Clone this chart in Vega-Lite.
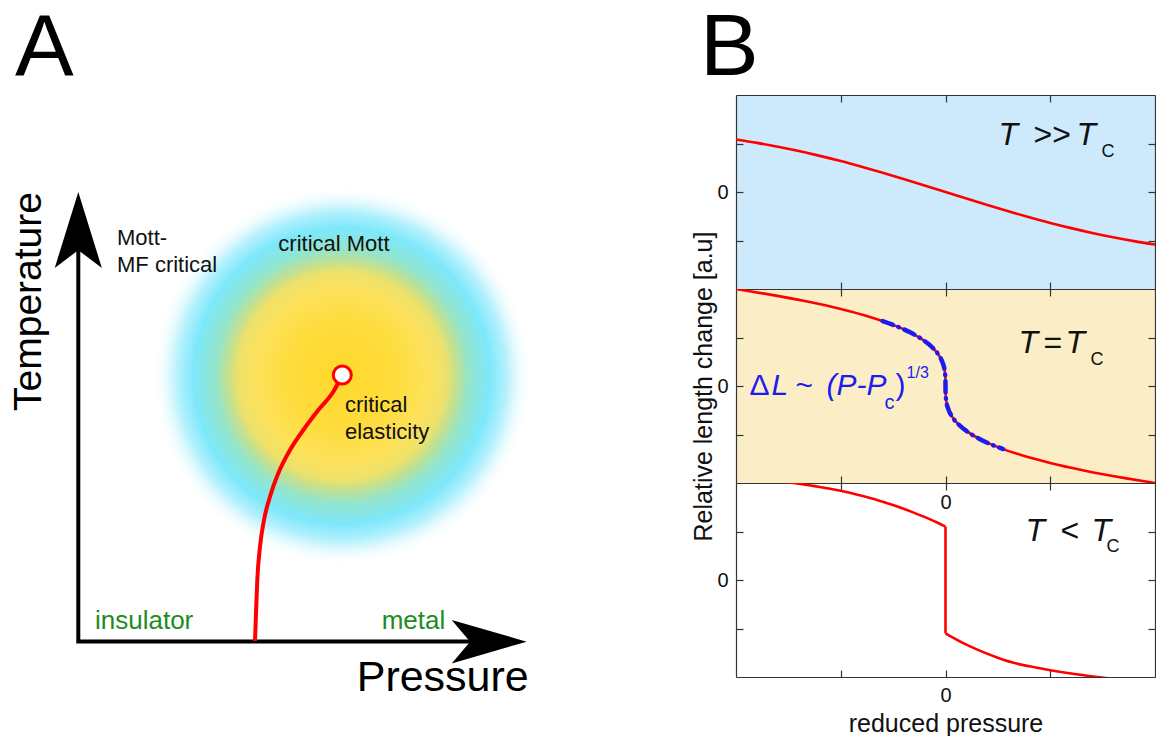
{
  "$schema": "https://vega.github.io/schema/vega-lite/v6.json",
  "padding": {"top": 5, "left": 0, "right": 0, "bottom": 0},
  "background": "white",
  "spacing": 1,
  "config": {
    "view": {"stroke": null},
    "font": "Liberation Sans",
    "title": {"fontSize": 88, "fontWeight": "normal", "anchor": "start", "font": "Liberation Sans", "color": "#000000", "offset": 1},
    "axis": {"grid": false, "domainColor": "#333333", "domainWidth": 1.2, "tickColor": "#333333", "tickWidth": 1.2, "tickSize": -7, "labelFont": "Liberation Sans", "labelFontSize": 20, "labelColor": "#111111", "titleFont": "Liberation Sans", "titleFontSize": 25, "titleFontWeight": "normal", "titleColor": "#111111", "labelPadding": 15}
  },
  "hconcat": [
    {
      "title": {"text": "A", "dx": 15},
      "width": 690,
      "height": 620,
      "layer": [
        {
          "data": {"values": [{"a": 34.2, "b": 33.9}]},
          "mark": {"type": "point", "shape": "circle", "filled": true, "size": 144400, "opacity": 1, "strokeWidth": 0,
            "fill": {"gradient": "radial", "x1": 0.5, "y1": 0.5, "r1": 0, "x2": 0.5, "y2": 0.5, "r2": 0.5,
              "stops": [
                {"offset": 0, "color": "#ffd82a"},
                {"offset": 0.28, "color": "#fedc3c"},
                {"offset": 0.46, "color": "#fde25c"},
                {"offset": 0.55, "color": "#ece16c"},
                {"offset": 0.6, "color": "#c3e08f"},
                {"offset": 0.67, "color": "#93e5cc"},
                {"offset": 0.78, "color": "#7de8fb"},
                {"offset": 0.87, "color": "#b8f1fd"},
                {"offset": 1, "color": "rgba(255,255,255,0)"}
              ]}},
          "encoding": {
            "x": {"field": "a", "type": "quantitative", "scale": {"domain": [0, 69], "nice": false, "zero": false}, "axis": null},
            "y": {"field": "b", "type": "quantitative", "scale": {"domain": [0, 62], "nice": false, "zero": false}, "axis": null}
          }
        },
        {
          "data": {"values": [{"a": 7.83, "b": 46.5, "k": 1}, {"a": 7.83, "b": 7.35, "k": 2}, {"a": 47.5, "b": 7.35, "k": 3}]},
          "mark": {"type": "line", "color": "#000000", "strokeWidth": 4, "strokeJoin": "miter"},
          "encoding": {
            "x": {"field": "a", "type": "quantitative", "scale": {"domain": [0, 69], "nice": false, "zero": false}, "axis": null},
            "y": {"field": "b", "type": "quantitative", "scale": {"domain": [0, 62], "nice": false, "zero": false}, "axis": null},
            "order": {"field": "k", "type": "quantitative"}
          }
        },
        {
          "data": {"values": [{"a": 7.83, "b": 48.5}]},
          "mark": {"type": "point", "shape": "M0,-1L0.62,1L0,0.53L-0.62,1Z", "filled": true, "size": 5776, "opacity": 1, "color": "#000000", "strokeWidth": 0},
          "encoding": {
            "x": {"field": "a", "type": "quantitative", "scale": {"domain": [0, 69], "nice": false, "zero": false}, "axis": null},
            "y": {"field": "b", "type": "quantitative", "scale": {"domain": [0, 62], "nice": false, "zero": false}, "axis": null}
          }
        },
        {
          "data": {"values": [{"a": 48.92, "b": 7.33}]},
          "mark": {"type": "point", "shape": "M1,0L-1,-0.58L-0.51,0L-1,0.58Z", "filled": true, "size": 5625, "opacity": 1, "color": "#000000", "strokeWidth": 0},
          "encoding": {
            "x": {"field": "a", "type": "quantitative", "scale": {"domain": [0, 69], "nice": false, "zero": false}, "axis": null},
            "y": {"field": "b", "type": "quantitative", "scale": {"domain": [0, 62], "nice": false, "zero": false}, "axis": null}
          }
        },
        {
          "data": {"values": [
            {"a": 25.5, "b": 7.4}, {"a": 25.6, "b": 10.17}, {"a": 25.73, "b": 13.5}, {"a": 26.0, "b": 16.83},
            {"a": 26.4, "b": 19.5}, {"a": 27.0, "b": 21.83}, {"a": 27.83, "b": 24.17}, {"a": 29.0, "b": 26.5},
            {"a": 30.33, "b": 28.5}, {"a": 31.83, "b": 30.5}, {"a": 33.33, "b": 32.33}, {"a": 34.23, "b": 34.0}
          ]},
          "mark": {"type": "line", "color": "#ff0000", "strokeWidth": 4, "interpolate": "monotone"},
          "encoding": {
            "x": {"field": "a", "type": "quantitative", "scale": {"domain": [0, 69], "nice": false, "zero": false}, "axis": null},
            "y": {"field": "b", "type": "quantitative", "scale": {"domain": [0, 62], "nice": false, "zero": false}, "axis": null}
          }
        },
        {
          "data": {"values": [{"a": 34.23, "b": 34.0}]},
          "mark": {"type": "point", "shape": "circle", "filled": false, "size": 324, "opacity": 1, "fill": "#ffffff", "stroke": "#ff0000", "strokeWidth": 3},
          "encoding": {
            "x": {"field": "a", "type": "quantitative", "scale": {"domain": [0, 69], "nice": false, "zero": false}, "axis": null},
            "y": {"field": "b", "type": "quantitative", "scale": {"domain": [0, 62], "nice": false, "zero": false}, "axis": null}
          }
        },
        {
          "data": {"values": [
            {"t": "Mott-", "a": 11.7, "b": 47.0}, {"t": "MF critical", "a": 11.7, "b": 44.33},
            {"t": "critical Mott", "a": 27.83, "b": 46.43}, {"t": "critical", "a": 34.5, "b": 30.27},
            {"t": "elasticity", "a": 34.5, "b": 27.57}
          ]},
          "mark": {"type": "text", "font": "Liberation Sans", "fontSize": 22, "align": "left", "baseline": "alphabetic", "color": "#111111"},
          "encoding": {
            "x": {"field": "a", "type": "quantitative", "scale": {"domain": [0, 69], "nice": false, "zero": false}, "axis": null},
            "y": {"field": "b", "type": "quantitative", "scale": {"domain": [0, 62], "nice": false, "zero": false}, "axis": null},
            "text": {"field": "t"}
          }
        },
        {
          "data": {"values": [{"t": "insulator", "a": 9.5, "b": 8.6}, {"t": "metal", "a": 38.17, "b": 8.6}]},
          "mark": {"type": "text", "font": "Liberation Sans", "fontSize": 26, "align": "left", "baseline": "alphabetic", "color": "#1e8c1e"},
          "encoding": {
            "x": {"field": "a", "type": "quantitative", "scale": {"domain": [0, 69], "nice": false, "zero": false}, "axis": null},
            "y": {"field": "b", "type": "quantitative", "scale": {"domain": [0, 62], "nice": false, "zero": false}, "axis": null},
            "text": {"field": "t"}
          }
        },
        {
          "data": {"values": [{"t": "Pressure", "a": 35.67, "b": 2.4}]},
          "mark": {"type": "text", "font": "Liberation Sans", "fontSize": 43, "align": "left", "baseline": "alphabetic", "color": "#000000"},
          "encoding": {
            "x": {"field": "a", "type": "quantitative", "scale": {"domain": [0, 69], "nice": false, "zero": false}, "axis": null},
            "y": {"field": "b", "type": "quantitative", "scale": {"domain": [0, 62], "nice": false, "zero": false}, "axis": null},
            "text": {"field": "t"}
          }
        },
        {
          "data": {"values": [{"t": "Temperature", "a": 4.1, "b": 41.35}]},
          "mark": {"type": "text", "font": "Liberation Sans", "fontSize": 39, "align": "center", "baseline": "alphabetic", "angle": 270, "color": "#000000"},
          "encoding": {
            "x": {"field": "a", "type": "quantitative", "scale": {"domain": [0, 69], "nice": false, "zero": false}, "axis": null},
            "y": {"field": "b", "type": "quantitative", "scale": {"domain": [0, 62], "nice": false, "zero": false}, "axis": null},
            "text": {"field": "t"}
          }
        }
      ]
    },
    {
      "title": {"text": "B", "dx": 8},
      "spacing": 0,
      "bounds": "flush",
      "vconcat": [
        {
          "width": 419,
          "height": 194,
          "view": {"fill": "#cdeafc", "stroke": null},
          "resolve": {"axis": {"x": "independent", "y": "independent"}},
          "layer": [
            {
              "data": {"values": [
                {"p": -2, "l": 1.084}, {"p": -1.8, "l": 1.013}, {"p": -1.6, "l": 0.933}, {"p": -1.4, "l": 0.844},
                {"p": -1.2, "l": 0.745}, {"p": -1.0, "l": 0.638}, {"p": -0.8, "l": 0.521}, {"p": -0.6, "l": 0.398},
                {"p": -0.4, "l": 0.269}, {"p": -0.2, "l": 0.136}, {"p": 0, "l": 0}, {"p": 0.2, "l": -0.136},
                {"p": 0.4, "l": -0.269}, {"p": 0.6, "l": -0.398}, {"p": 0.8, "l": -0.521}, {"p": 1.0, "l": -0.638},
                {"p": 1.2, "l": -0.745}, {"p": 1.4, "l": -0.844}, {"p": 1.6, "l": -0.933}, {"p": 1.8, "l": -1.013},
                {"p": 2.0, "l": -1.084}
              ]},
              "mark": {"type": "line", "color": "#ff0000", "strokeWidth": 2.6, "interpolate": "monotone", "clip": true},
              "encoding": {
                "x": {"field": "p", "type": "quantitative", "scale": {"domain": [-2, 2], "nice": false, "zero": false}, "axis": {"orient": "bottom", "values": [-1, 0, 1], "labels": false, "title": null}},
                "y": {"field": "l", "type": "quantitative", "scale": {"domain": [-2, 2], "nice": false, "zero": false}, "axis": {"orient": "left", "values": [-1, 0, 1], "labelExpr": "datum.value == 0 ? '0' : ''", "title": null}}
              }
            },
            {
              "data": {"values": [{"t": "T", "p": 0.506, "l": 0.963}, {"t": "T", "p": 1.251, "l": 0.963}]},
              "mark": {"type": "text", "font": "Liberation Sans", "fontStyle": "italic", "fontSize": 32, "align": "left", "baseline": "alphabetic", "color": "#111111"},
              "encoding": {
                "x": {"field": "p", "type": "quantitative", "scale": {"domain": [-2, 2], "nice": false, "zero": false}, "axis": {"orient": "top", "values": [-1, 0, 1], "labels": false, "title": null}},
                "y": {"field": "l", "type": "quantitative", "scale": {"domain": [-2, 2], "nice": false, "zero": false}, "axis": {"orient": "right", "values": [-1, 0, 1], "labels": false, "title": null}},
                "text": {"field": "t"}
              }
            },
            {
              "data": {"values": [{"t": ">>", "p": 0.84, "l": 0.963}]},
              "mark": {"type": "text", "font": "Liberation Sans", "fontSize": 32, "align": "left", "baseline": "alphabetic", "color": "#111111"},
              "encoding": {
                "x": {"field": "p", "type": "quantitative", "scale": {"domain": [-2, 2], "nice": false, "zero": false}, "axis": null},
                "y": {"field": "l", "type": "quantitative", "scale": {"domain": [-2, 2], "nice": false, "zero": false}, "axis": null},
                "text": {"field": "t"}
              }
            },
            {
              "data": {"values": [{"t": "C", "p": 1.49, "l": 0.715}]},
              "mark": {"type": "text", "font": "Liberation Sans", "fontSize": 18, "align": "left", "baseline": "alphabetic", "color": "#111111"},
              "encoding": {
                "x": {"field": "p", "type": "quantitative", "scale": {"domain": [-2, 2], "nice": false, "zero": false}, "axis": null},
                "y": {"field": "l", "type": "quantitative", "scale": {"domain": [-2, 2], "nice": false, "zero": false}, "axis": null},
                "text": {"field": "t"}
              }
            }
          ]
        },
        {
          "width": 419,
          "height": 194,
          "view": {"fill": "#fbeec6", "stroke": null},
          "resolve": {"axis": {"x": "independent", "y": "independent"}},
          "layer": [
            {
              "data": {"values": [
                {"p": -2, "l": 2.0}, {"p": -1.728, "l": 1.904}, {"p": -1.331, "l": 1.746}, {"p": -1.0, "l": 1.587},
                {"p": -0.729, "l": 1.428}, {"p": -0.512, "l": 1.27}, {"p": -0.343, "l": 1.111}, {"p": -0.216, "l": 0.952},
                {"p": -0.125, "l": 0.794}, {"p": -0.064, "l": 0.635}, {"p": -0.027, "l": 0.476}, {"p": -0.008, "l": 0.317},
                {"p": -0.001, "l": 0.159}, {"p": 0, "l": 0}, {"p": 0.001, "l": -0.159}, {"p": 0.008, "l": -0.317},
                {"p": 0.027, "l": -0.476}, {"p": 0.064, "l": -0.635}, {"p": 0.125, "l": -0.794}, {"p": 0.216, "l": -0.952},
                {"p": 0.343, "l": -1.111}, {"p": 0.512, "l": -1.27}, {"p": 0.729, "l": -1.428}, {"p": 1.0, "l": -1.587},
                {"p": 1.331, "l": -1.746}, {"p": 1.728, "l": -1.904}, {"p": 2.0, "l": -2.0}
              ]},
              "mark": {"type": "line", "color": "#ff0000", "strokeWidth": 2.6, "interpolate": "monotone", "clip": true},
              "encoding": {
                "x": {"field": "p", "type": "quantitative", "scale": {"domain": [-2, 2], "nice": false, "zero": false}, "axis": {"orient": "bottom", "values": [-1, 0, 1], "labels": false, "title": null}},
                "y": {"field": "l", "type": "quantitative", "scale": {"domain": [-2, 2], "nice": false, "zero": false}, "axis": {"orient": "left", "values": [-1, 0, 1], "labelExpr": "datum.value == 0 ? '0' : ''", "title": "Relative length change [a.u]", "titlePadding": 0}}
              }
            },
            {
              "data": {"values": [
                {"p": -0.6, "l": 1.338}, {"p": -0.512, "l": 1.27}, {"p": -0.343, "l": 1.111}, {"p": -0.216, "l": 0.952},
                {"p": -0.125, "l": 0.794}, {"p": -0.064, "l": 0.635}, {"p": -0.027, "l": 0.476}, {"p": -0.008, "l": 0.317},
                {"p": -0.001, "l": 0.159}, {"p": 0, "l": 0}, {"p": 0.001, "l": -0.159}, {"p": 0.008, "l": -0.317},
                {"p": 0.027, "l": -0.476}, {"p": 0.064, "l": -0.635}, {"p": 0.125, "l": -0.794}, {"p": 0.216, "l": -0.952},
                {"p": 0.343, "l": -1.111}, {"p": 0.512, "l": -1.27}, {"p": 0.55, "l": -1.3}
              ]},
              "mark": {"type": "line", "color": "#1c1cf0", "strokeWidth": 4.5, "interpolate": "monotone", "strokeDash": [11, 6, 0.5, 6], "strokeCap": "round"},
              "encoding": {
                "x": {"field": "p", "type": "quantitative", "scale": {"domain": [-2, 2], "nice": false, "zero": false}, "axis": null},
                "y": {"field": "l", "type": "quantitative", "scale": {"domain": [-2, 2], "nice": false, "zero": false}, "axis": null}
              }
            },
            {
              "data": {"values": [{"t": "T", "p": 0.697, "l": 0.689}, {"t": "T", "p": 1.146, "l": 0.689}]},
              "mark": {"type": "text", "font": "Liberation Sans", "fontStyle": "italic", "fontSize": 32, "align": "left", "baseline": "alphabetic", "color": "#111111"},
              "encoding": {
                "x": {"field": "p", "type": "quantitative", "scale": {"domain": [-2, 2], "nice": false, "zero": false}, "axis": {"orient": "top", "values": [-1, 0, 1], "labels": false, "title": null}},
                "y": {"field": "l", "type": "quantitative", "scale": {"domain": [-2, 2], "nice": false, "zero": false}, "axis": {"orient": "right", "values": [-1, 0, 1], "labels": false, "title": null}},
                "text": {"field": "t"}
              }
            },
            {
              "data": {"values": [{"t": "=", "p": 0.936, "l": 0.689}]},
              "mark": {"type": "text", "font": "Liberation Sans", "fontSize": 32, "align": "left", "baseline": "alphabetic", "color": "#111111"},
              "encoding": {
                "x": {"field": "p", "type": "quantitative", "scale": {"domain": [-2, 2], "nice": false, "zero": false}, "axis": null},
                "y": {"field": "l", "type": "quantitative", "scale": {"domain": [-2, 2], "nice": false, "zero": false}, "axis": null},
                "text": {"field": "t"}
              }
            },
            {
              "data": {"values": [{"t": "C", "p": 1.385, "l": 0.427}]},
              "mark": {"type": "text", "font": "Liberation Sans", "fontSize": 18, "align": "left", "baseline": "alphabetic", "color": "#111111"},
              "encoding": {
                "x": {"field": "p", "type": "quantitative", "scale": {"domain": [-2, 2], "nice": false, "zero": false}, "axis": null},
                "y": {"field": "l", "type": "quantitative", "scale": {"domain": [-2, 2], "nice": false, "zero": false}, "axis": null},
                "text": {"field": "t"}
              }
            },
            {
              "data": {"values": [{"t": "Δ", "p": -1.872, "l": -0.192}, {"t": "~", "p": -1.433, "l": -0.192}, {"t": ")", "p": -0.478, "l": -0.192}]},
              "mark": {"type": "text", "font": "Liberation Sans", "fontSize": 30, "align": "left", "baseline": "alphabetic", "color": "#1c1cf0"},
              "encoding": {
                "x": {"field": "p", "type": "quantitative", "scale": {"domain": [-2, 2], "nice": false, "zero": false}, "axis": null},
                "y": {"field": "l", "type": "quantitative", "scale": {"domain": [-2, 2], "nice": false, "zero": false}, "axis": null},
                "text": {"field": "t"}
              }
            },
            {
              "data": {"values": [{"t": "L", "p": -1.662, "l": -0.192}, {"t": "(P-P", "p": -1.137, "l": -0.192}]},
              "mark": {"type": "text", "font": "Liberation Sans", "fontStyle": "italic", "fontSize": 30, "align": "left", "baseline": "alphabetic", "color": "#1c1cf0"},
              "encoding": {
                "x": {"field": "p", "type": "quantitative", "scale": {"domain": [-2, 2], "nice": false, "zero": false}, "axis": null},
                "y": {"field": "l", "type": "quantitative", "scale": {"domain": [-2, 2], "nice": false, "zero": false}, "axis": null},
                "text": {"field": "t"}
              }
            },
            {
              "data": {"values": [{"t": "c", "p": -0.583, "l": -0.48}]},
              "mark": {"type": "text", "font": "Liberation Sans", "fontSize": 20, "align": "left", "baseline": "alphabetic", "color": "#1c1cf0"},
              "encoding": {
                "x": {"field": "p", "type": "quantitative", "scale": {"domain": [-2, 2], "nice": false, "zero": false}, "axis": null},
                "y": {"field": "l", "type": "quantitative", "scale": {"domain": [-2, 2], "nice": false, "zero": false}, "axis": null},
                "text": {"field": "t"}
              }
            },
            {
              "data": {"values": [{"t": "1/3", "p": -0.372, "l": 0.16}]},
              "mark": {"type": "text", "font": "Liberation Sans", "fontSize": 16, "align": "left", "baseline": "alphabetic", "color": "#1c1cf0"},
              "encoding": {
                "x": {"field": "p", "type": "quantitative", "scale": {"domain": [-2, 2], "nice": false, "zero": false}, "axis": null},
                "y": {"field": "l", "type": "quantitative", "scale": {"domain": [-2, 2], "nice": false, "zero": false}, "axis": null},
                "text": {"field": "t"}
              }
            }
          ]
        },
        {
          "width": 419,
          "height": 194,
          "resolve": {"axis": {"x": "independent", "y": "independent"}},
          "layer": [
            {
              "data": {"values": [
                {"b": "left", "p": -1.55, "l": 2.03}, {"b": "left", "p": -1.25, "l": 1.935}, {"b": "left", "p": -1.0, "l": 1.84},
                {"b": "left", "p": -0.8, "l": 1.735}, {"b": "left", "p": -0.64, "l": 1.64}, {"b": "left", "p": -0.48, "l": 1.53},
                {"b": "left", "p": -0.322, "l": 1.405}, {"b": "left", "p": -0.162, "l": 1.265}, {"b": "left", "p": -0.08, "l": 1.185},
                {"b": "left", "p": 0, "l": 1.1},
                {"b": "right", "p": 0, "l": -1.1}, {"b": "right", "p": 0.08, "l": -1.2}, {"b": "right", "p": 0.16, "l": -1.292},
                {"b": "right", "p": 0.315, "l": -1.447}, {"b": "right", "p": 0.48, "l": -1.587}, {"b": "right", "p": 0.633, "l": -1.697},
                {"b": "right", "p": 0.8, "l": -1.78}, {"b": "right", "p": 1.0, "l": -1.86}, {"b": "right", "p": 1.25, "l": -1.943},
                {"b": "right", "p": 1.45, "l": -1.999}, {"b": "right", "p": 1.55, "l": -2.025}
              ]},
              "mark": {"type": "line", "color": "#ff0000", "strokeWidth": 2.6, "interpolate": "monotone", "clip": true},
              "encoding": {
                "x": {"field": "p", "type": "quantitative", "scale": {"domain": [-2, 2], "nice": false, "zero": false}, "axis": {"orient": "bottom", "values": [-1, 0, 1], "labelExpr": "datum.value == 0 ? '0' : ''", "title": "reduced pressure", "titlePadding": 6}},
                "y": {"field": "l", "type": "quantitative", "scale": {"domain": [-2, 2], "nice": false, "zero": false}, "axis": {"orient": "left", "values": [-1, 0, 1], "labelExpr": "datum.value == 0 ? '0' : ''", "title": null}},
                "detail": {"field": "b"}
              }
            },
            {
              "data": {"values": [{"p": 0, "l": 1.1, "l2": -1.1}]},
              "mark": {"type": "rule", "color": "#ff0000", "strokeWidth": 2.6},
              "encoding": {
                "x": {"field": "p", "type": "quantitative", "scale": {"domain": [-2, 2], "nice": false, "zero": false}, "axis": null},
                "y": {"field": "l", "type": "quantitative", "scale": {"domain": [-2, 2], "nice": false, "zero": false}, "axis": null},
                "y2": {"field": "l2"}
              }
            },
            {
              "data": {"values": [{"t": "T", "p": 0.764, "l": 0.804}, {"t": "T", "p": 1.394, "l": 0.804}]},
              "mark": {"type": "text", "font": "Liberation Sans", "fontStyle": "italic", "fontSize": 32, "align": "left", "baseline": "alphabetic", "color": "#111111"},
              "encoding": {
                "x": {"field": "p", "type": "quantitative", "scale": {"domain": [-2, 2], "nice": false, "zero": false}, "axis": {"orient": "top", "values": [-1, 0, 1], "labelExpr": "datum.value == 0 ? '0' : ''", "labelBaseline": "top", "labelPadding": -2, "title": null}},
                "y": {"field": "l", "type": "quantitative", "scale": {"domain": [-2, 2], "nice": false, "zero": false}, "axis": {"orient": "right", "values": [-1, 0, 1], "labels": false, "title": null}},
                "text": {"field": "t"}
              }
            },
            {
              "data": {"values": [{"t": "<", "p": 1.098, "l": 0.804}]},
              "mark": {"type": "text", "font": "Liberation Sans", "fontSize": 32, "align": "left", "baseline": "alphabetic", "color": "#111111"},
              "encoding": {
                "x": {"field": "p", "type": "quantitative", "scale": {"domain": [-2, 2], "nice": false, "zero": false}, "axis": null},
                "y": {"field": "l", "type": "quantitative", "scale": {"domain": [-2, 2], "nice": false, "zero": false}, "axis": null},
                "text": {"field": "t"}
              }
            },
            {
              "data": {"values": [{"t": "C", "p": 1.538, "l": 0.577}]},
              "mark": {"type": "text", "font": "Liberation Sans", "fontSize": 18, "align": "left", "baseline": "alphabetic", "color": "#111111"},
              "encoding": {
                "x": {"field": "p", "type": "quantitative", "scale": {"domain": [-2, 2], "nice": false, "zero": false}, "axis": null},
                "y": {"field": "l", "type": "quantitative", "scale": {"domain": [-2, 2], "nice": false, "zero": false}, "axis": null},
                "text": {"field": "t"}
              }
            }
          ]
        }
      ]
    }
  ]
}
